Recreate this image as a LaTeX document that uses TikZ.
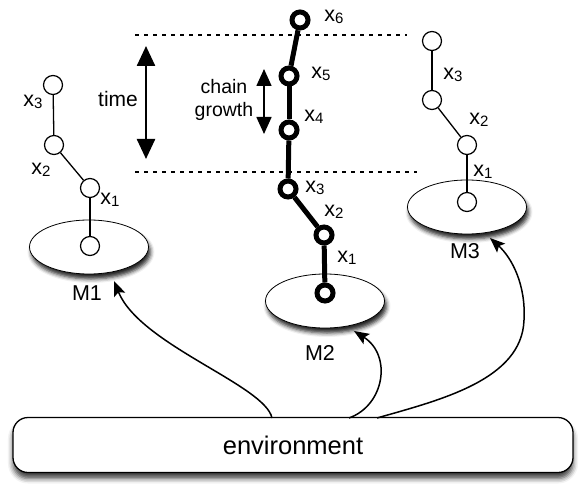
\documentclass[tikz,border=0pt]{standalone}
\usepackage{fontspec}
\setmainfont{Liberation Sans}
\usetikzlibrary{arrows.meta,shapes.geometric,shadows.blur}
\newcommand\xlab[1]{x\raisebox{-0.2ex}{\fontsize{15}{15}\selectfont #1}}
\begin{document}
\begin{tikzpicture}[x=1pt,y=-1pt,
  thinnode/.style={circle,draw,line width=1.2pt,fill=white,minimum size=19pt,inner sep=0pt},
  thicknode/.style={circle,draw,line width=5pt,fill=white,minimum size=16pt,inner sep=0pt},
  thinlink/.style={line width=1.3pt},
  thicklink/.style={line width=5pt},
  lab/.style={font=\fontsize{21.5}{26}\selectfont, inner sep=0pt},
  modelbox/.style={ellipse,draw,line width=0.8pt,fill=white,minimum width=119pt,minimum height=54pt,
    blur shadow={shadow xshift=2pt,shadow yshift=-5pt,shadow blur radius=4pt,shadow opacity=85}},
  feed/.style={line width=1.5pt,-{Stealth[length=15pt,width=12pt,inset=3pt]}},
  guide/.style={line width=1.3pt,dash pattern=on 4pt off 5pt},
]
\useasboundingbox (0,0) rectangle (585,494);

% guide lines
\coordinate (g1a) at (135,35);  \coordinate (g1b) at (407,35);
\coordinate (g2a) at (135,172); \coordinate (g2b) at (417,172);
\draw[guide] (g1a) -- (g1b);
\draw[guide] (g2a) -- (g2b);

% time arrow
\coordinate (t1) at (146,46); \coordinate (t2) at (146,159);
\draw[line width=2.5pt,{Triangle[length=20pt,width=18pt]}-{Triangle[length=20pt,width=18pt]}] (t1) -- (t2);
\node[font=\fontsize{21}{24}\selectfont] (time) at (118,99) {time};

% chain growth arrow
\coordinate (c1) at (264,69); \coordinate (c2) at (264,134);
\draw[line width=1.6pt,{Triangle[length=17pt,width=15pt]}-{Triangle[length=17pt,width=15pt]}] (c1) -- (c2);
\node[font=\fontsize{19.5}{23}\selectfont,align=center] (growth) at (224,100) {chain\\growth};

% ellipses
\node[modelbox] (M1e) at (89,247) {};
\node[modelbox] (M2e) at (325,301) {};
\node[modelbox] (M3e) at (467,207) {};

% environment
\node[draw,line width=1.3pt,rounded corners=15pt,fill=white,minimum width=560pt,minimum height=55pt,
  blur shadow={shadow xshift=0pt,shadow yshift=-6pt,shadow blur radius=5pt,shadow opacity=75},
  font=\fontsize{25.5}{30}\selectfont] (env) at (293,445) {environment};

% left chain
\node[thinnode] (a0) at (90,246) {};
\node[thinnode] (a1) at (90,188) {};
\node[thinnode] (a2) at (54,145) {};
\node[thinnode] (a3) at (53,85) {};
\draw[thinlink] (a0) -- (a1);
\draw[thinlink] (a1) -- (a2);
\draw[thinlink] (a2) -- (a3);
\node[lab] at (110,200) {\xlab{1}};
\node[lab] at (41,170) {\xlab{2}};
\node[lab] at (33,102) {\xlab{3}};
\node[lab] (M1) at (87,293) {M1};

% middle chain
\node[thicknode] (b0) at (325,293) {};
\node[thicknode] (b1) at (324,235) {};
\node[thicknode] (b2) at (288,189) {};
\node[thicknode] (b3) at (289,130) {};
\node[thicknode] (b4) at (289,76) {};
\node[thicknode] (b5) at (300,20) {};
\draw[thicklink] (b0) -- (b1);
\draw[thicklink] (b1) -- (b2);
\draw[thicklink] (b2) -- (b3);
\draw[thicklink] (b3) -- (b4);
\draw[thicklink] (b4) -- (b5);
\node[lab] at (347,258) {\xlab{1}};
\node[lab] at (334,212) {\xlab{2}};
\node[lab] at (315,188) {\xlab{3}};
\node[lab] at (314,117) {\xlab{4}};
\node[lab] at (321,74) {\xlab{5}};
\node[lab] at (334,17) {\xlab{6}};
\node[lab] (M2) at (320,353) {M2};

% right chain
\node[thinnode] (d0) at (467,202) {};
\node[thinnode] (d1) at (467,145) {};
\node[thinnode] (d2) at (432,100) {};
\node[thinnode] (d3) at (432,41) {};
\draw[thinlink] (d0) -- (d1);
\draw[thinlink] (d1) -- (d2);
\draw[thinlink] (d2) -- (d3);
\node[lab] at (483,172) {\xlab{1}};
\node[lab] at (479,120) {\xlab{2}};
\node[lab] at (453,75) {\xlab{3}};
\node[lab] (M3) at (465,251) {M3};

% feed arrows
\coordinate (s1) at (272,418); \coordinate (e1) at (114,281);
\coordinate (s2) at (349,418); \coordinate (e2) at (354,331);
\coordinate (s3) at (377,418); \coordinate (m3) at (524,320); \coordinate (e3) at (490,238);
\draw[feed] (s1) .. controls (265,385) and (140,345) .. (e1);
\draw[feed] (s2) .. controls (385,405) and (392,355) .. (e2);
\draw[feed] (s3) .. controls (440,400) and (522,380) .. (m3) .. controls (526,285) and (512,258) .. (e3);
\end{tikzpicture}
\end{document}
